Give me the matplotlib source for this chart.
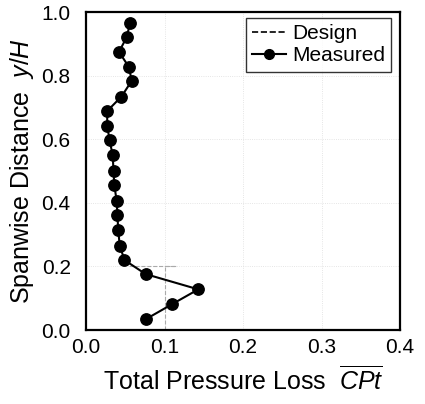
import matplotlib.pyplot as plt

plt.rcParams['font.family'] = ['Liberation Sans', 'DejaVu Sans']
plt.rcParams['mathtext.fontset'] = 'custom'
plt.rcParams['mathtext.rm'] = 'Liberation Sans'
plt.rcParams['mathtext.it'] = 'Liberation Sans:italic'

# measured total pressure loss along the span
span = [0.966, 0.922, 0.875, 0.826, 0.783, 0.734, 0.689, 0.642, 0.597, 0.550,
        0.501, 0.456, 0.407, 0.362, 0.314, 0.265, 0.220, 0.176, 0.128, 0.082, 0.034]
cpt = [0.056, 0.052, 0.042, 0.055, 0.058, 0.045, 0.027, 0.027, 0.030, 0.034,
       0.035, 0.036, 0.039, 0.040, 0.041, 0.043, 0.049, 0.076, 0.143, 0.110, 0.076]

# design distribution
design_span = [0.0, 0.2, 0.2, 0.2]
design_cpt = [0.1, 0.1, 0.115, 0.053]

xticks = [0.0, 0.1, 0.2, 0.3, 0.4]
yticks = [0.0, 0.2, 0.4, 0.6, 0.8, 1.0]

fig = plt.figure(figsize=(4.25, 4.04), dpi=100)
ax = fig.add_axes([0.2024, 0.183, 0.739, 0.787])

ax.grid(True, color='#dddddd', linestyle=':', linewidth=0.6)
ax.set_axisbelow(True)

ax.plot(design_cpt, design_span, '--', color='#aaaaaa', linewidth=0.8)
ax.plot(cpt, span, '-o', color='black', linewidth=1.5, markersize=8.2)

# legend handles styled like the original black lines
h1, = ax.plot([], [], '--', color='black', linewidth=1.2, label='Design')
h2, = ax.plot([], [], '-o', color='black', linewidth=1.5, markersize=7, label='Measured')
leg = ax.legend(handles=[h1, h2], loc='upper right', fontsize=15, frameon=True,
                fancybox=False, edgecolor='black', handlelength=1.6,
                handletextpad=0.3, borderpad=0.3, labelspacing=0.15,
                borderaxespad=0.2, bbox_to_anchor=(0.985, 0.995))
leg.get_frame().set_linewidth(1.0)

ax.set_xlim(0, 0.4)
ax.set_ylim(0, 1.0)
ax.set_xticks(xticks)
ax.set_yticks(yticks)
ax.set_xticklabels([f'{t:.1f}' for t in xticks])
ax.set_yticklabels([f'{t:.1f}' for t in yticks])
ax.tick_params(direction='in', length=0, labelsize=15)
ax.tick_params(axis='y', pad=11)
ax.tick_params(axis='x', pad=6)

for s in ax.spines.values():
    s.set_linewidth(1.6)

ax.set_xlabel(r'Total Pressure Loss  $\overline{CPt}$', fontsize=18, labelpad=6)
ax.set_ylabel(r'Spanwise Distance  $y/H$', fontsize=18, labelpad=4)

fig.savefig('out.png', dpi=100)
